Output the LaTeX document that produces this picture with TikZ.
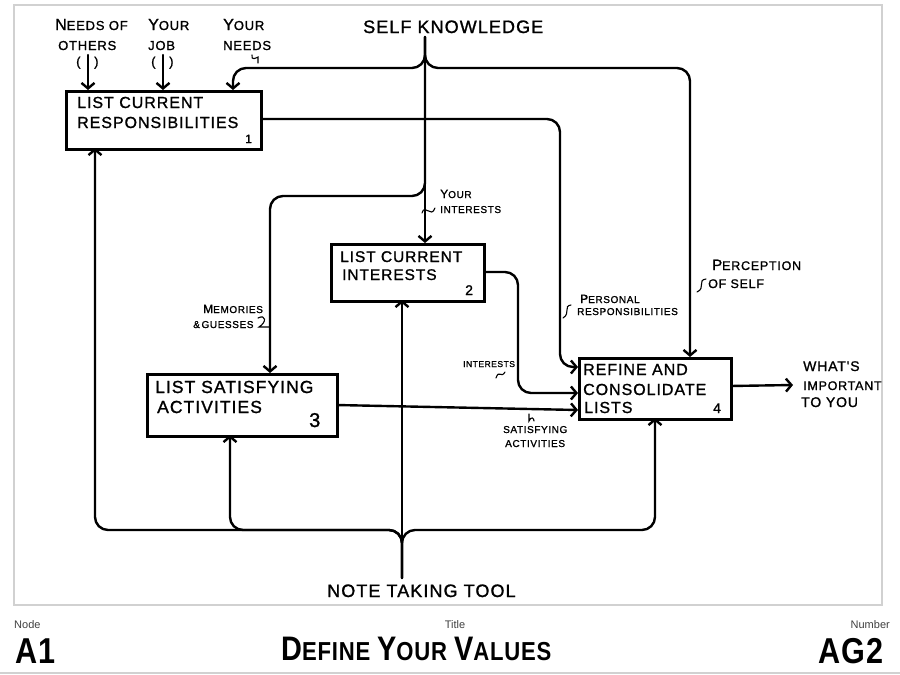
\documentclass[tikz,border=0pt]{standalone}
\usepackage{fontspec}
\setmainfont{Liberation Sans}
\newfontfamily\hand[LetterSpace=6,FakeBold=1.2]{Liberation Sans}
\newfontfamily\titlefont[FakeStretch=0.85,LetterSpace=3]{Liberation Sans}
\usetikzlibrary{arrows.meta}
\newcommand\hbig[2]{{\fontsize{#1}{#1}\selectfont #2}}
\tikzset{
  frameline/.style={draw=black!18, line width=1.3pt},
  box/.style={draw, line width=2.7pt, anchor=north west, inner sep=0pt, fill=white},
  conn/.style={line width=2.4pt, rounded corners=13pt, line cap=round, line join=round},
  arr/.style={conn, -{Straight Barb[length=5.5pt,width=13pt]}},
  squig/.style={line width=1.1pt, line cap=round},
  btxt/.style={font=\hand\fontsize{16}{18}\selectfont, anchor=base west, inner sep=0pt},
  bnum/.style={font=\hand\fontsize{14}{16}\selectfont, anchor=base west, inner sep=0pt},
  mtxt/.style={font=\hand\fontsize{13}{15}\selectfont, anchor=base west, inner sep=0pt},
  stxt/.style={font=\hand\fontsize{10}{12}\selectfont, anchor=base west, inner sep=0pt},
  ftxt/.style={font=\fontsize{11}{13}\selectfont, text=black!75, inner sep=0pt},
  bigtxt/.style={font=\titlefont\bfseries\fontsize{36}{38}\selectfont, inner sep=0pt},
}
\begin{document}
\begin{tikzpicture}[x=1pt,y=-1pt]
\fill[white] (0,0) rectangle (900,675);
\useasboundingbox (0,0) rectangle (900,675);
\draw[frameline] (14,5) rectangle (882,605);
\draw[frameline] (0,673) -- (900,673);

% coordinates
\coordinate (s0) at (425,37);
\coordinate (a1) at (233,68);
\coordinate (a2) at (690,68);
\coordinate (a3) at (270,196);
\coordinate (a4) at (560,367);
\coordinate (a5) at (518,393);
\coordinate (t1) at (88,55);
\coordinate (t2) at (163,55);
\coordinate (n0) at (402,578);
\coordinate (bl) at (95,530);
\coordinate (bm) at (230,530);
\coordinate (br) at (655,530);
\coordinate (r1) at (578,367);
\coordinate (r2) at (578,393);
\coordinate (r3) at (578,410);
\coordinate (out) at (793,385);

% connectors (drawn first, boxes on top)
\draw[arr] (s0) |- (a1) -- (a1 |- 0,90);
\draw[arr] (s0) |- (a2) -- (a2 |- 0,357);
\draw[arr] (s0) |- (a3) -- (a3 |- 0,373);
\draw[arr] (s0) -- (s0 |- 0,243);
\draw[arr] (t1) -- (t1 |- 0,90);
\draw[arr] (t2) -- (t2 |- 0,90);
\draw[arr] (260,119) -| (a4) -- (r1);
\draw[arr] (483,272) -| (a5) -- (r2);
\draw[arr] (336,405) -- (r3);
\draw[arr] (730,386) -- (out);
\draw[arr] (n0) -- (n0 |- 0,300);
\draw[arr] (n0) |- (bl) -- (bl |- 0,148);
\draw[arr] (n0) |- (bm) -- (bm |- 0,435);
\draw[arr] (n0) |- (br) -- (br |- 0,418);

% boxes
\node[box, minimum width=195pt, minimum height=58pt] (b1) at (65,90) {};
\node[box, minimum width=153pt, minimum height=57pt] (b2) at (330,243) {};
\node[box, minimum width=190pt, minimum height=62pt] (b3) at (146,373) {};
\node[box, minimum width=152pt, minimum height=61pt] (b4) at (578,357) {};

% box texts
\node[btxt] (b1l1) at (77,108) {LIST CURRENT};
\node[btxt] (b1l2) at (77,128) {RESPONSIBILITIES};
\node[bnum, font=\hand\fontsize{12}{14}\selectfont] (b1n) at (245,143) {1};
\node[btxt, font=\hand\fontsize{15.5}{18}\selectfont] (b2l1) at (340,262) {LIST CURRENT};
\node[btxt, font=\hand\fontsize{15.5}{18}\selectfont] (b2l2) at (342,280) {INTERESTS};
\node[bnum] (b2n) at (465,295) {2};
\node[btxt, font=\hand\fontsize{17.5}{20}\selectfont] (b3l1) at (155,393) {LIST SATISFYING};
\node[btxt, font=\hand\fontsize{17.5}{20}\selectfont] (b3l2) at (157,413) {ACTIVITIES};
\node[bnum, font=\hand\fontsize{20}{22}\selectfont] (b3n) at (309,427) {3};
\node[btxt] (b4l1) at (583,375) {REFINE AND};
\node[btxt] (b4l2) at (583,395) {CONSOLIDATE};
\node[btxt] (b4l3) at (584,413) {LISTS};
\node[bnum] (b4n) at (713,413) {4};

% top labels
\node[mtxt] (no1) at (55,30) {\hbig{16}{N}EEDS OF};
\node[mtxt] (no2) at (58,50) {OTHERS};
\node[mtxt, font=\hand\fontsize{13}{14}\selectfont] (po1) at (76,66) {(};
\node[mtxt, font=\hand\fontsize{13}{14}\selectfont] (po2) at (94,66) {)};
\node[mtxt] (yj1) at (148,30) {\hbig{16}{Y}OUR};
\node[mtxt] (yj2) at (148,50) {JOB};
\node[mtxt, font=\hand\fontsize{13}{14}\selectfont] (pj1) at (151,66) {(};
\node[mtxt, font=\hand\fontsize{13}{14}\selectfont] (pj2) at (169,66) {)};
\node[mtxt] (yn1) at (223,30) {\hbig{16}{Y}OUR};
\node[mtxt] (yn2) at (223,50) {NEEDS};
\draw[squig] (252,55) .. controls (251,61) and (256,58) .. (258,57) -- (258,63);

\node[btxt, font=\hand\fontsize{18}{20}\selectfont] (sk) at (363,33) {SELF KNOWLEDGE};
\node[btxt, font=\hand\fontsize{18}{20}\selectfont] (nt) at (327,597) {NOTE TAKING TOOL};

% side labels
\node[stxt] (yi1) at (440,198) {\hbig{12}{Y}OUR};
\node[stxt] (yi2) at (440,213) {INTERESTS};
\draw[squig] (422,213) .. controls (425,203) and (431,219) .. (435,208);

\node[stxt] (mg1) at (203,313) {\hbig{12}{M}EMORIES};
\node[stxt] (mg2) at (193,328) {\&\,GUESSES};
\draw[squig] (258,318) .. controls (266,314) and (267,322) .. (259,327) -- (269,327);

\node[stxt] (pr1) at (580,303) {\hbig{12}{P}ERSONAL};
\node[stxt] (pr2) at (577,315) {RESPONSIBILITIES};
\draw[squig] (571,305) .. controls (563,306) and (571,313) .. (563,318);

\node[mtxt, font=\hand\fontsize{12.5}{14}\selectfont] (ps1) at (712,270) {\hbig{15}{P}ERCEPTION};
\node[mtxt, font=\hand\fontsize{12.5}{14}\selectfont] (ps2) at (708,288) {OF SELF};
\draw[squig] (706,279) .. controls (697,280) and (706,288) .. (697,292);

\node[stxt, font=\hand\fontsize{8.5}{10}\selectfont] (ii) at (463,367) {INTERESTS};
\draw[squig] (496,378) .. controls (499,369) and (501,379) .. (505,372);

\node[stxt] (sa1) at (503,433) {SATISFYING};
\node[stxt] (sa2) at (505,447) {ACTIVITIES};
\draw[squig] (529,414) -- (529,421) .. controls (531,416) and (534,418) .. (534,421);

\node[mtxt, font=\hand\fontsize{14}{16}\selectfont] (wi1) at (803,371) {WHAT'S};
\node[mtxt, font=\hand\fontsize{12.5}{16}\selectfont] (wi2) at (803,390) {IMPORTANT};
\node[mtxt, font=\hand\fontsize{14}{16}\selectfont] (wi3) at (801,407) {TO YOU};

% footer
\node[ftxt, anchor=base west] (fn) at (14,628) {Node};
\node[ftxt, anchor=base] (ft) at (455,628) {Title};
\node[ftxt, anchor=base east] (fu) at (890,628) {Number};
\node[bigtxt, anchor=base west] (fa) at (15,663) {A1};
\node[bigtxt, anchor=base east] (fg) at (884,663) {AG2};
\node[anchor=base west, inner sep=0pt, font=\titlefont\bfseries\fontsize{26}{28}\selectfont] (fd) at (281,660)
  {\hbig{34}{D}EFINE \hbig{34}{Y}OUR \hbig{34}{V}ALUES};
\end{tikzpicture}
\end{document}
